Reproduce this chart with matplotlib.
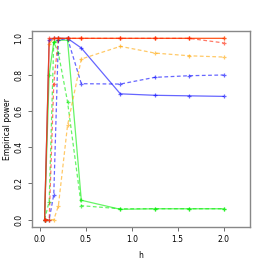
import numpy as np
import matplotlib.pyplot as plt

# bandwidth grid
h = [0.05, 0.1, 0.15, 0.2, 0.3, 0.45, 0.875, 1.25, 1.625, 2.0]

# empirical power per method
red_solid = [0.0, 1.0, 1.0, 1.0, 1.0, 1.0, 1.0, 1.0, 1.0, 1.0]
red_dash = [0.0, 0.0, 0.75, 1.0, 1.0, 1.0, 1.0, 1.0, 1.0, 0.975]
orange_solid = [0.0, 0.97, 1.0, 1.0, 1.0, 1.0, 1.0, 1.0, 1.0, 1.0]
orange_dash = [0.0, 0.0, 0.0, 0.075, 0.52, 0.886, 0.956, 0.919, 0.904, 0.897]
blue_solid = [0.0, 0.99, 1.0, 1.0, 1.0, 0.947, 0.694, 0.686, 0.683, 0.68]
blue_dash = [0.0, 0.0, 0.138, 0.99, 1.0, 0.75, 0.748, 0.785, 0.794, 0.798]
green_solid = [0.0, 0.8, 0.98, 0.99, 0.99, 0.107, 0.057, 0.06, 0.06, 0.06]
green_dash = [0.0, 0.1, 0.98, 0.92, 0.65, 0.077, 0.06, 0.06, 0.06, 0.06]

series = [
    (green_solid, '#00ee00', '-'),
    (green_dash, '#00ee00', '--'),
    (blue_solid, '#0000ff', '-'),
    (blue_dash, '#0000ff', '--'),
    (orange_dash, '#ffa500', '--'),
    (orange_solid, '#ff8c00', '-'),
    (red_dash, '#ff2000', '--'),
    (red_solid, '#ff2000', '-'),
]

fig = plt.figure(figsize=(2.66, 2.66), dpi=100)
ax = fig.add_axes([0.12, 0.147, 0.82, 0.736])

for y, c, ls in series:
    ax.plot(h, y, color=c, ls=ls, lw=0.9, alpha=0.6,
            marker='+', ms=3.5, mew=0.9, dashes=(3, 2) if ls == '--' else (None, None))

ax.set_xlim(-0.088, 2.288)
ax.set_ylim(-0.04, 1.04)
ax.set_xticks([0.0, 0.5, 1.0, 1.5, 2.0])
ax.set_yticks([0.0, 0.2, 0.4, 0.6, 0.8, 1.0])
ax.set_xticklabels(['0.0', '0.5', '1.0', '1.5', '2.0'])
ax.set_yticklabels(['0.0', '0.2', '0.4', '0.6', '0.8', '1.0'], rotation=90, va='center')
ax.tick_params(labelsize=5.5, length=3, width=0.6, color='#555555', pad=3)
for s in ax.spines.values():
    s.set_color('#888888')
    s.set_linewidth(1.0)
ax.set_xlabel('h', fontsize=5.5, labelpad=5)
ax.set_ylabel('Empirical power', fontsize=5.5, labelpad=2)

fig.savefig('out.png', dpi=100)
